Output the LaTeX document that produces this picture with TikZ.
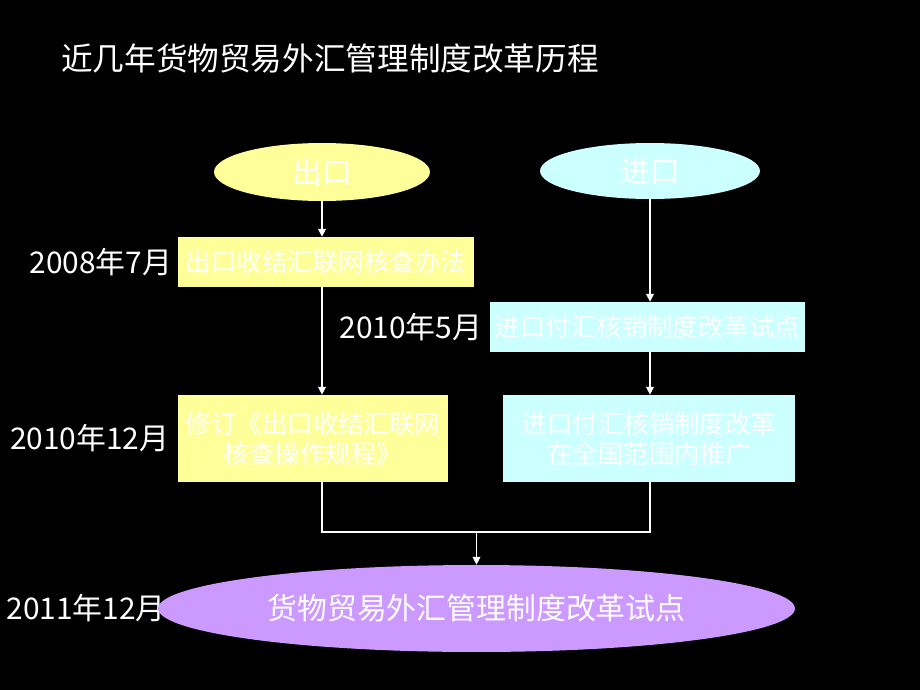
\documentclass[tikz,border=0pt]{standalone}
\usepackage{fontspec}
\setmainfont{Noto Sans CJK SC}
\usetikzlibrary{shapes.geometric,positioning,arrows.meta}
\definecolor{exyellow}{HTML}{FFFF99}
\definecolor{imcyan}{HTML}{CCFFFF}
\definecolor{reformpurple}{HTML}{CC99FF}

\begin{document}
\begin{tikzpicture}[x=0.02cm,y=-0.02cm,
            flow/.style={-{Triangle[width=4.5pt,length=4.5pt]},white,line width=0.6pt},
            link/.style={white,line width=0.6pt},
            oval/.style={ellipse,inner sep=0pt,text=white,font=\fontsize{17}{20}\selectfont},
            stage/.style={rectangle,inner sep=0pt,text=white,align=center,font=\fontsize{14.5}{17}\selectfont},
            date/.style={text=white,inner sep=0pt,font=\fontsize{17}{20}\selectfont}]

        % Background
        \fill[black] (0,0) rectangle (920,690);
        \useasboundingbox (0,0) rectangle (920,690);

        % Title
        \node[anchor=west,text=white,font=\fontsize{18}{22}\selectfont] (title) at (55,58) {近几年货物贸易外汇管理制度改革历程};

        % Start ovals
        \node[oval,fill=exyellow,minimum width=4.32cm,minimum height=1.16cm] (ex) at (322,172) {出口};
        \node[oval,fill=imcyan,minimum width=4.4cm,minimum height=1.12cm] (im) at (650,171) {进口};

        % Stages
        \node[stage,fill=exyellow,minimum width=5.92cm,minimum height=1cm] (b1) at (326,262) {出口收结汇联网核查办法};
        \node[stage,fill=imcyan,minimum width=6.3cm,minimum height=1cm] (b2) at (647.5,327) {进口付汇核销制度改革试点};
        \node[stage,fill=exyellow,minimum width=5.4cm,minimum height=1.74cm] (b3) at (313,438.5) {修订《出口收结汇联网\\核查操作规程》};
        \node[stage,fill=imcyan,minimum width=5.84cm,minimum height=1.74cm] (b4) at (649,438.5) {进口付汇核销制度改革\\在全国范围内推广};

        % Dates
        \node[date,left=3pt of b1] (d1) {2008年7月};
        \node[date,left=4pt of b2] (d2) {2010年5月};
        \node[date,left=4.5pt of b3] (d3) {2010年12月};
        \node[date,anchor=east] (d4) at (166,608) {2011年12月};

        % Final oval
        \node[oval,fill=reformpurple,minimum width=12.74cm,minimum height=1.74cm] (pilot) at (476.5,608.5) {货物贸易外汇管理制度改革试点};

        % Connectors
        \coordinate (merge) at (pilot.north |- 0,532);
        \draw[flow] (ex.south) -- (ex.south |- b1.north);
        \draw[flow] (ex.south |- b1.south) -- (ex.south |- b3.north);
        \draw[flow] (im.south) -- (im.south |- b2.north);
        \draw[flow] (im.south |- b2.south) -- (im.south |- b4.north);
        \draw[link] (ex.south |- b3.south) |- (merge) -| (im.south |- b4.south);
        \draw[flow] (merge) -- (pilot.north);

\end{tikzpicture}
\end{document}
